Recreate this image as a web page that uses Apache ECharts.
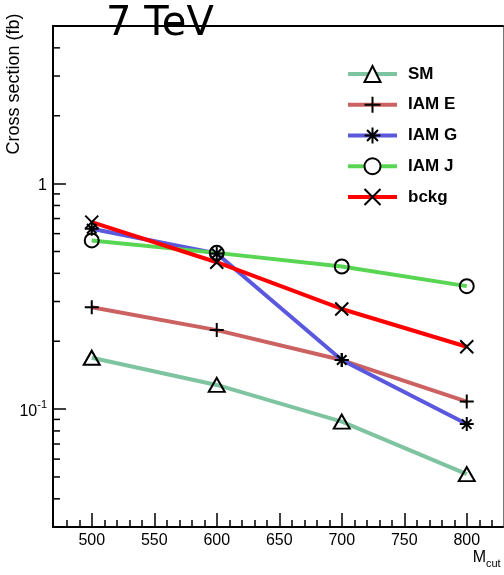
<!DOCTYPE html>
<html>
<head>
<meta charset="utf-8">
<script src="https://cdn.jsdelivr.net/npm/echarts@6/dist/echarts.min.js"></script>
<style>
  html, body { margin: 0; padding: 0; background: #fff; }
  #chart { width: 504px; height: 575px; }
</style>
</head>
<body>
<div id="chart"></div>
<script>
// Cut values on the invariant mass (GeV)
const mcut = [500, 600, 700, 800];

// Cross sections (fb) for each model
const sm   = [0.169, 0.128, 0.088, 0.0515];
const iamE = [0.283, 0.224, 0.165, 0.108];
const iamG = [0.631, 0.49, 0.165, 0.0858];
const iamJ = [0.56, 0.493, 0.429, 0.351];
const bckg = [0.675, 0.448, 0.278, 0.189];

const seriesNames = ['SM', 'IAM E', 'IAM G', 'IAM J', 'bckg'];

// Axis ranges and tick positions
const xRange = [469, 829];
const yRange = [0.03, 5];
const xMajorTicks = [500, 550, 600, 650, 700, 750, 800];
const xMinorTicks = [480, 490, 510, 520, 530, 540, 560, 570, 580, 590, 610, 620, 630, 640,
                     660, 670, 680, 690, 710, 720, 730, 740, 760, 770, 780, 790, 810, 820];
const yMinorTicks = [0.04, 0.05, 0.06, 0.07, 0.08, 0.09,
                     0.2, 0.3, 0.4, 0.5, 0.6, 0.7, 0.8, 0.9, 2, 3, 4];

const FONT = '"Liberation Sans", Arial, Helvetica, sans-serif';

// Marker outlines (stroked paths)
const SYM_PLUS = 'path://M0,5 L10,5 M5,0 L5,10';
const SYM_STAR = 'path://M0,5 L10,5 M5,0 L5,10 M1.6,1.6 L8.4,8.4 M8.4,1.6 L1.6,8.4';
const SYM_CROSS = 'path://M0,0 L10,10 M10,0 L0,10';

function lineSeries(name, values, color, symbol, size) {
  return {
    name: name,
    type: 'line',
    data: mcut.map((x, i) => [x, values[i]]),
    symbol: symbol,
    symbolSize: size,
    showSymbol: true,
    lineStyle: { color: color, width: 4 },
    itemStyle: { color: 'rgba(255,255,255,0)', borderColor: '#000', borderWidth: 2 },
    emphasis: { disabled: true },
    xAxisIndex: 0,
    yAxisIndex: 0
  };
}

const chart = echarts.init(document.getElementById('chart'), null, { renderer: 'canvas' });

const option = {
  animation: false,
  backgroundColor: '#fff',
  title: {
    text: '7 TeV',
    left: 106,
    top: 5,
    padding: 0,
    textStyle: { fontFamily: '"DejaVu Sans", sans-serif', fontSize: 40, fontWeight: 'normal', color: '#000' }
  },
  grid: { left: 53, right: 1, top: 26, bottom: 48, containLabel: false, outerBoundsMode: 'none' },
  legend: {
    orient: 'vertical',
    left: 346,
    top: 64,
    padding: 0,
    itemWidth: 49,
    itemHeight: 20,
    itemGap: 10.75,
    data: seriesNames,
    selectedMode: false,
    lineStyle: { width: 4 },
    itemStyle: { color: '#fff', borderColor: '#000', borderWidth: 2 },
    textStyle: { fontFamily: FONT, fontSize: 17, fontWeight: 'bold', color: '#000', lineHeight: 20, padding: [0, 0, 0, 6] }
  },
  xAxis: [
    {
      type: 'value', min: xRange[0], max: xRange[1], position: 'bottom', offset: 0,
      axisLine: { show: true, lineStyle: { color: '#000', width: 2 } },
      axisTick: { show: true, inside: true, length: 14, customValues: xMajorTicks, lineStyle: { color: '#000', width: 1.5 } },
      axisLabel: { show: true, customValues: xMajorTicks, margin: 6, fontFamily: FONT, fontSize: 16, color: '#000' },
      splitLine: { show: false }
    },
    {
      type: 'value', min: xRange[0], max: xRange[1], position: 'bottom', offset: 0,
      axisLine: { show: false },
      axisTick: { show: true, inside: true, length: 7, customValues: xMinorTicks, lineStyle: { color: '#000', width: 1.5 } },
      axisLabel: { show: false },
      splitLine: { show: false }
    },
    {
      type: 'value', min: xRange[0], max: xRange[1], position: 'top', offset: 0,
      axisLine: { show: true, lineStyle: { color: '#000', width: 2 } },
      axisTick: { show: false },
      axisLabel: { show: false },
      splitLine: { show: false }
    }
  ],
  yAxis: [
    {
      type: 'log', logBase: 10, min: yRange[0], max: yRange[1], position: 'left', offset: 0,
      axisLine: { show: true, lineStyle: { color: '#000', width: 2 } },
      axisTick: { show: true, inside: true, length: 13, lineStyle: { color: '#000', width: 1.5 } },
      axisLabel: {
        show: true, margin: 6, color: '#000', fontFamily: FONT, fontSize: 16,
        showMinLabel: false, showMaxLabel: false,
        formatter: function (v) {
          const e = Math.log10(v);
          if (Math.abs(e) < 1e-6) return '{b|1}';
          if (Math.abs(e + 1) < 1e-6) return '{b|10}{s|-1}';
          return '';
        },
        rich: {
          b: { fontFamily: FONT, fontSize: 16, color: '#000', lineHeight: 20, verticalAlign: 'bottom' },
          s: { fontFamily: FONT, fontSize: 11, color: '#000', lineHeight: 11, verticalAlign: 'top' }
        }
      },
      splitLine: { show: false }
    },
    {
      type: 'log', logBase: 10, min: yRange[0], max: yRange[1], position: 'right', offset: 0,
      axisLine: { show: true, lineStyle: { color: '#777', width: 1 } },
      axisTick: { show: false },
      axisLabel: { show: false },
      splitLine: { show: false }
    }
  ],
  series: [
    lineSeries('SM', sm, '#7fc4a0', 'triangle', [16, 14]),
    lineSeries('IAM E', iamE, '#cc6161', SYM_PLUS, 14),
    lineSeries('IAM G', iamG, '#5a58dc', SYM_STAR, 14),
    lineSeries('IAM J', iamJ, '#58d653', 'circle', 14),
    lineSeries('bckg', bckg, '#ff0000', SYM_CROSS, 13)
  ],
  graphic: [
    {
      type: 'text', x: 14, y: 84, rotation: Math.PI / 2, silent: true,
      style: {
        text: 'Cross section (fb)', fontFamily: FONT, fontSize: 18, fill: '#000',
        align: 'center', verticalAlign: 'middle', textAlign: 'center', textVerticalAlign: 'middle'
      }
    },
    {
      type: 'text', x: 486, y: 558, silent: true,
      style: {
        text: 'M', fontFamily: FONT, fontSize: 16, fill: '#000',
        align: 'right', verticalAlign: 'middle', textAlign: 'right', textVerticalAlign: 'middle'
      }
    },
    {
      type: 'text', x: 486, y: 564, silent: true,
      style: {
        text: 'cut', fontFamily: FONT, fontSize: 11, fill: '#000',
        align: 'left', verticalAlign: 'middle', textAlign: 'left', textVerticalAlign: 'middle'
      }
    }
  ]
};

chart.setOption(option);

// Minor ticks of the logarithmic axis (2..9 per decade), placed through the axis scale
const minorLines = yMinorTicks.map(function (v) {
  const p = chart.convertToPixel({ xAxisIndex: 0, yAxisIndex: 0 }, [xRange[0], v]);
  return {
    type: 'line', silent: true,
    shape: { x1: p[0], y1: p[1], x2: p[0] + 7, y2: p[1] },
    style: { stroke: '#000', lineWidth: 1.5 }
  };
});
chart.setOption({ graphic: option.graphic.concat(minorLines) });
</script>
</body>
</html>
